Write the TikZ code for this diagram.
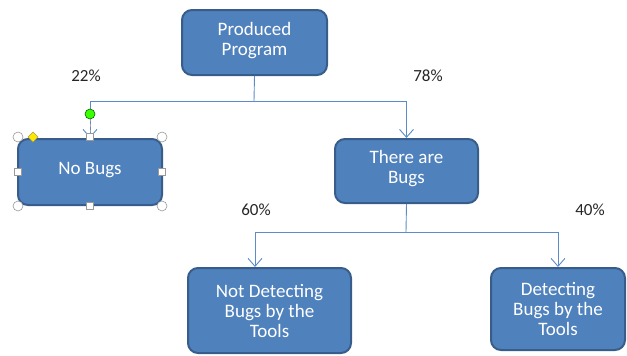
\documentclass[tikz,border=0pt]{standalone}
\usepackage{fontspec}
\setmainfont{Carlito}
\usepackage{tikz}
\usetikzlibrary{arrows.meta,positioning,shapes.geometric}
\definecolor{boxfill}{HTML}{4F81BD}
\definecolor{boxline}{HTML}{385D8A}
\definecolor{linkline}{HTML}{5B8CC8}
\tikzstyle{box} = [rectangle, rounded corners=10pt, draw=boxline, line width=2pt, fill=boxfill, text=white, align=center, font=\fontsize{19}{20}\selectfont, inner sep=0pt]
\tikzstyle{pct} = [font=\fontsize{17}{18}\selectfont, text=black!85]
\tikzstyle{arrow} = [linkline, line width=0.9pt, -{Straight Barb[length=8pt,width=14pt]}]
\tikzstyle{link} = [linkline, line width=0.9pt]
\tikzstyle{handle} = [draw=gray!80, fill=white, line width=0.6pt]

\begin{document}
\begin{tikzpicture}[x=1pt,y=-1pt]
                        \useasboundingbox (0,0) rectangle (627,356);
                        % boxes
                        \node[box, minimum width=145pt, minimum height=65pt] (prog) at (254.5,42.5) {Produced\\Program\\[-12pt]};
                        \node[box, minimum width=144pt, minimum height=66pt] (nobugs) at (90,172) {\raisebox{8pt}{No Bugs}};
                        \node[box, minimum width=143pt, minimum height=64pt] (bugs) at (406.5,171) {There are\\Bugs\\[-12pt]};
                        \node[box, minimum width=163pt, minimum height=85pt] (notdet) at (269.5,310.5) {Not Detecting\\Bugs by the\\Tools};
                        \node[box, minimum width=134pt, minimum height=82pt] (det) at (558,309) {Detecting\\Bugs by the\\Tools};
                        % connectors
                        \coordinate (split1) at (254,101);
                        \coordinate (split2) at (406,232);
                        \draw[link] (prog.south) -- (split1);
                        \draw[arrow] (split1) -| (nobugs.north);
                        \draw[arrow] (split1) -| (bugs.north);
                        \draw[link] (bugs.south) -- (split2);
                        \draw[arrow] (split2) -| ([xshift=-14.5pt]notdet.north);
                        \draw[arrow] (split2) -| (det.north);
                        % percentages
                        \node[pct] (p22) at (86,76) {22\%};
                        \node[pct] (p78) at (428,76) {78\%};
                        \node[pct] (p60) at (256,210) {60\%};
                        \node[pct] (p40) at (590,210) {40\%};
                        % selection handles
                        \draw[gray!70, dashed, line width=0.8pt] (90,118) -- (90,132);
                        \draw[handle, fill=green!70!lime, draw=green!40!black] (90,114) circle (5pt);
                        \foreach \x/\y in {18/137, 162/137, 18/206, 162/206}
                            \draw[handle] (\x,\y) circle (5pt);
                        \foreach \x/\y in {90/137, 90/206, 18/172, 162/172}
                            \draw[handle] (\x-3.5,\y-3.5) rectangle (\x+3.5,\y+3.5);
                        \draw[fill=yellow!90!orange, draw=yellow!60!black, line width=0.5pt] (33,132) -- (38,137) -- (33,142) -- (28,137) -- cycle;
                    \end{tikzpicture}
\end{document}
